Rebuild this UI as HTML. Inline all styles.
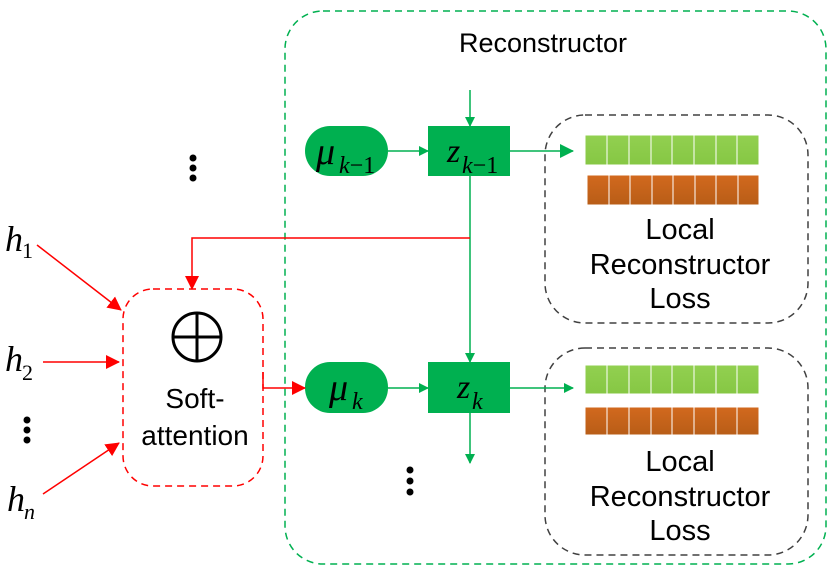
<!DOCTYPE html>
<html><head><meta charset="utf-8"><style>
html,body{margin:0;padding:0;background:#fff;}
svg{display:block;}
</style></head><body>
<svg width="831" height="578" viewBox="0 0 831 578" xmlns="http://www.w3.org/2000/svg" font-family="Liberation Sans, sans-serif">
<defs>
<marker id="ga" markerWidth="10" markerHeight="10" refX="9" refY="5" orient="auto" markerUnits="userSpaceOnUse"><path d="M0,0 L10,5 L0,10 Z" fill="#00b050"/></marker>
<marker id="gb" markerWidth="14" markerHeight="14" refX="13" refY="7" orient="auto" markerUnits="userSpaceOnUse"><path d="M0,0 L14,7 L0,14 Z" fill="#00b050"/></marker>
<marker id="ra" markerWidth="14" markerHeight="14" refX="13" refY="7" orient="auto" markerUnits="userSpaceOnUse"><path d="M0,0 L14,7 L0,14 Z" fill="#ff0000"/></marker>
<linearGradient id="gg" x1="0" y1="0" x2="0" y2="1"><stop offset="0" stop-color="#92d050"/><stop offset="1" stop-color="#86c744"/></linearGradient>
<linearGradient id="og" x1="0" y1="0" x2="0" y2="1"><stop offset="0" stop-color="#d2691e"/><stop offset="1" stop-color="#b85d17"/></linearGradient>
</defs>

<rect x="285" y="11" width="541" height="553" rx="38" fill="none" stroke="#00b050" stroke-width="1.5" stroke-dasharray="7,5"/>
<text x="543" y="52" font-size="27" text-anchor="middle">Reconstructor</text>

<rect x="545" y="115" width="263" height="208" rx="40" fill="none" stroke="#404040" stroke-width="1.5" stroke-dasharray="7,5"/>
<rect x="545" y="348" width="263" height="207" rx="40" fill="none" stroke="#404040" stroke-width="1.5" stroke-dasharray="7,5"/>

<g stroke="#fff" stroke-width="1">
<rect x="585" y="135" width="174" height="30" fill="url(#gg)"/>
<rect x="587" y="175" width="172" height="30" fill="url(#og)"/>
<rect x="585" y="365" width="174" height="29" fill="url(#gg)"/>
<rect x="585" y="407" width="174" height="28" fill="url(#og)"/>
<path d="M607,135V165M629,135V165M651,135V165M672,135V165M694,135V165M716,135V165M737,135V165
M609,175V205M630,175V205M652,175V205M673,175V205M695,175V205M716,175V205M738,175V205
M607,365V394M629,365V394M651,365V394M672,365V394M694,365V394M716,365V394M737,365V394
M607,407V435M629,407V435M651,407V435M672,407V435M694,407V435M716,407V435M737,407V435"/>
</g>
<g font-size="29" text-anchor="middle">
<text x="680" y="239">Local</text>
<text x="680" y="274">Reconstructor</text>
<text x="680" y="308">Loss</text>
<text x="680" y="471">Local</text>
<text x="680" y="506">Reconstructor</text>
<text x="680" y="540">Loss</text>
</g>

<rect x="305" y="126" width="83" height="50" rx="25" fill="#00b050"/>
<rect x="428" y="126" width="82" height="50" fill="#00b050"/>
<rect x="305" y="362" width="83" height="51" rx="25" fill="#00b050"/>
<rect x="428" y="362" width="82" height="51" fill="#00b050"/>
<g font-family="Liberation Serif, serif">
<text x="316" y="164" font-size="38" font-style="italic">μ</text>
<text x="339" y="173" font-size="24"><tspan font-style="italic">k</tspan>−1</text>
<text x="447" y="162" font-size="34" font-style="italic">z</text>
<text x="462" y="173" font-size="24"><tspan font-style="italic">k</tspan>−1</text>
<text x="329" y="400" font-size="38" font-style="italic">μ</text>
<text x="352" y="409" font-size="24" font-style="italic">k</text>
<text x="457" y="398" font-size="34" font-style="italic">z</text>
<text x="472" y="409" font-size="24" font-style="italic">k</text>
</g>

<g stroke="#00b050" stroke-width="1.5" fill="none">
<line x1="470" y1="90" x2="470" y2="126" marker-end="url(#ga)"/>
<line x1="388" y1="151" x2="428" y2="151" marker-end="url(#ga)"/>
<line x1="510" y1="151" x2="573" y2="151" marker-end="url(#gb)"/>
<line x1="470" y1="176" x2="470" y2="362" marker-end="url(#ga)"/>
<line x1="388" y1="388" x2="428" y2="388" marker-end="url(#ga)"/>
<line x1="510" y1="388" x2="573" y2="388" marker-end="url(#ga)"/>
<line x1="470" y1="413" x2="470" y2="463" marker-end="url(#ga)"/>
</g>

<rect x="123" y="289" width="140" height="197" rx="30" fill="none" stroke="#ff0000" stroke-width="1.5" stroke-dasharray="7,5"/>
<circle cx="197" cy="337" r="24" fill="none" stroke="#000" stroke-width="3"/>
<line x1="173" y1="337" x2="221" y2="337" stroke="#000" stroke-width="3"/>
<line x1="197" y1="313" x2="197" y2="361" stroke="#000" stroke-width="3"/>
<text x="195" y="408" font-size="28" text-anchor="middle">Soft-</text>
<text x="195" y="445" font-size="28" text-anchor="middle">attention</text>

<g stroke="#ff0000" stroke-width="1.5" fill="none">
<polyline points="470,238 192,238 192,289" marker-end="url(#ra)"/>
<line x1="37" y1="245" x2="121" y2="310" marker-end="url(#ra)"/>
<line x1="43" y1="362" x2="119" y2="362" marker-end="url(#ra)"/>
<line x1="43" y1="494" x2="119" y2="443" marker-end="url(#ra)"/>
<polyline points="263,372 263,388 305,388" marker-end="url(#ra)"/>
</g>

<g font-family="Liberation Serif, serif">
<text x="5" y="251" font-size="36" font-style="italic">h</text><text x="22" y="258" font-size="22">1</text>
<text x="5" y="371" font-size="36" font-style="italic">h</text><text x="22" y="380" font-size="22">2</text>
<text x="7" y="511" font-size="36" font-style="italic">h</text><text x="24" y="519" font-size="22" font-style="italic">n</text>
</g>

<g fill="#000">
<circle cx="27" cy="420" r="3.5"/><circle cx="27" cy="430" r="3.5"/><circle cx="27" cy="440" r="3.5"/>
<circle cx="193" cy="158" r="3.5"/><circle cx="193" cy="168" r="3.5"/><circle cx="193" cy="178" r="3.5"/>
<circle cx="410" cy="470" r="3.5"/><circle cx="410" cy="481" r="3.5"/><circle cx="410" cy="492" r="3.5"/>
</g>
</svg>
</body></html>
